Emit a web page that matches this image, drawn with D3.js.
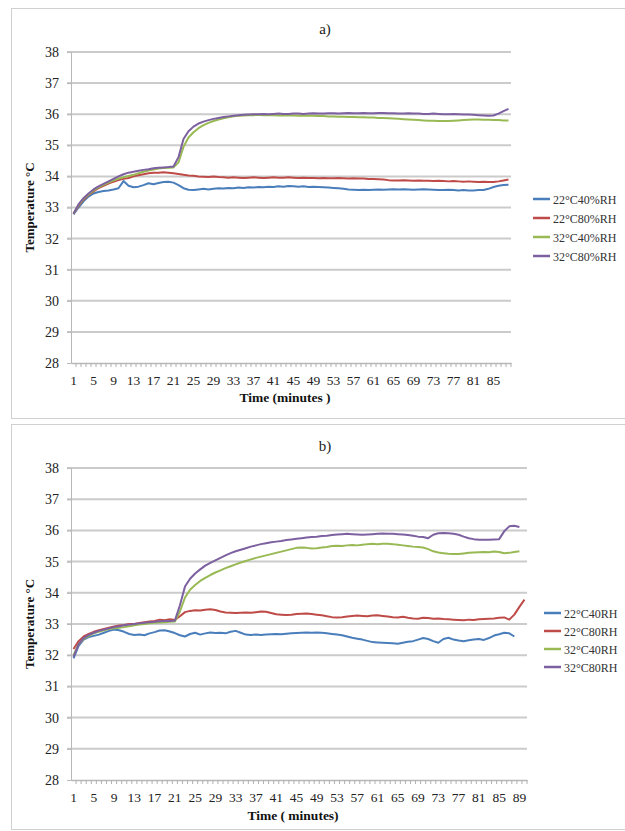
<!DOCTYPE html>
<html>
<head>
<meta charset="utf-8">
<script src="https://cdn.jsdelivr.net/npm/d3@7"></script>
<style>
  body { margin: 0; background: #fff; }
  svg { display: block; }
  .tick-label { font-family: "Liberation Serif", "Times New Roman", serif; fill: #222; }
  .axis-title { font-family: "Liberation Serif", "Times New Roman", serif; font-weight: bold; fill: #111; }
  .legend-text { font-family: "Liberation Serif", "Times New Roman", serif; fill: #333; }
</style>
</head>
<body>
<svg id="chart" width="625" height="831"></svg>
<script>
// ---------- Data ----------
const yTicks = [28, 29, 30, 31, 32, 33, 34, 35, 36, 37, 38];

// chart a) : 88 minutes
const timeA = d3.range(1, 89);
const xTicksA = [1, 5, 9, 13, 17, 21, 25, 29, 33, 37, 41, 45, 49, 53, 57, 61, 65, 69, 73, 77, 81, 85];
const namesA = ["22°C40%RH", "22°C80%RH", "32°C40%RH", "32°C80%RH"];

const a22c40 = [32.78,33.00,33.20,33.35,33.45,33.50,33.53,33.55,33.58,33.62,
  33.85,33.70,33.65,33.67,33.72,33.78,33.75,33.79,33.82,33.83,
  33.80,33.72,33.62,33.57,33.56,33.58,33.60,33.58,33.60,33.62,
  33.61,33.63,33.62,33.64,33.63,33.65,33.64,33.66,33.65,33.67,
  33.66,33.68,33.67,33.69,33.68,33.67,33.68,33.66,33.67,33.66,
  33.65,33.64,33.63,33.62,33.60,33.58,33.57,33.56,33.57,33.56,
  33.57,33.58,33.57,33.58,33.59,33.58,33.59,33.58,33.57,33.58,
  33.59,33.58,33.57,33.56,33.56,33.57,33.56,33.55,33.56,33.55,
  33.55,33.56,33.56,33.60,33.66,33.70,33.72,33.73];
const a22c80 = [32.80,33.05,33.25,33.40,33.52,33.62,33.70,33.77,33.83,33.88,
  33.92,33.95,34.00,34.04,34.07,34.10,34.12,34.12,34.13,34.12,
  34.10,34.08,34.05,34.03,34.02,34.00,33.99,33.98,34.00,33.98,
  33.97,33.96,33.97,33.96,33.95,33.96,33.97,33.96,33.95,33.96,
  33.97,33.96,33.96,33.97,33.96,33.95,33.96,33.95,33.95,33.94,
  33.95,33.94,33.94,33.95,33.94,33.93,33.94,33.93,33.93,33.92,
  33.92,33.91,33.90,33.88,33.87,33.87,33.88,33.87,33.86,33.87,
  33.86,33.86,33.85,33.86,33.85,33.84,33.85,33.84,33.83,33.84,
  33.83,33.82,33.83,33.82,33.82,33.84,33.87,33.90];
const a32c40 = [32.80,33.08,33.28,33.42,33.55,33.65,33.73,33.80,33.87,33.93,
  33.97,34.01,34.05,34.10,34.15,34.19,34.22,34.25,34.27,34.28,
  34.29,34.45,34.95,35.25,35.42,35.55,35.65,35.72,35.78,35.83,
  35.87,35.90,35.93,35.95,35.96,35.97,35.97,35.98,35.97,35.97,
  35.97,35.96,35.97,35.96,35.96,35.95,35.96,35.95,35.95,35.94,
  35.94,35.93,35.93,35.92,35.92,35.91,35.91,35.90,35.90,35.89,
  35.89,35.88,35.88,35.87,35.86,35.85,35.84,35.83,35.82,35.81,
  35.80,35.79,35.79,35.78,35.78,35.78,35.79,35.80,35.81,35.82,
  35.83,35.83,35.82,35.82,35.81,35.81,35.80,35.80];
const a32c80 = [32.80,33.10,33.30,33.45,33.58,33.68,33.76,33.84,33.92,34.00,
  34.07,34.12,34.15,34.18,34.21,34.23,34.26,34.28,34.29,34.30,
  34.32,34.62,35.20,35.45,35.60,35.70,35.76,35.81,35.85,35.88,
  35.91,35.93,35.95,35.97,35.98,35.99,36.00,36.00,36.01,36.00,
  36.01,36.02,36.01,36.01,36.02,36.02,36.01,36.02,36.03,36.02,
  36.02,36.03,36.03,36.02,36.03,36.04,36.03,36.03,36.04,36.03,
  36.03,36.04,36.04,36.03,36.03,36.02,36.02,36.03,36.02,36.02,
  36.01,36.01,36.02,36.01,36.00,36.00,36.01,36.00,35.99,35.99,
  35.98,35.97,35.96,35.95,35.96,36.02,36.10,36.17];

// chart b) : 90 minutes
const timeB = d3.range(1, 91);
const xTicksB = [1, 5, 9, 13, 17, 21, 25, 29, 33, 37, 41, 45, 49, 53, 57, 61, 65, 69, 73, 77, 81, 85, 89];
const namesB = ["22°C40RH", "22°C80RH", "32°C40RH", "32°C80RH"];

const b22c40 = [31.90,32.30,32.50,32.58,32.62,32.66,32.72,32.78,32.82,32.80,
  32.75,32.68,32.65,32.66,32.64,32.70,32.74,32.79,32.80,32.76,
  32.71,32.64,32.60,32.68,32.72,32.66,32.70,32.73,32.71,32.72,
  32.70,32.75,32.78,32.72,32.66,32.65,32.66,32.65,32.66,32.67,
  32.68,32.67,32.69,32.70,32.71,32.72,32.73,32.72,32.73,32.72,
  32.70,32.68,32.66,32.64,32.60,32.56,32.53,32.50,32.46,32.42,
  32.41,32.40,32.39,32.38,32.37,32.40,32.43,32.45,32.50,32.55,
  32.52,32.45,32.40,32.52,32.56,32.50,32.47,32.45,32.48,32.50,
  32.52,32.49,32.55,32.63,32.67,32.72,32.70,32.60];
const b22c80 = [32.20,32.45,32.60,32.68,32.75,32.80,32.84,32.88,32.92,32.95,
  32.97,33.00,33.00,33.03,33.06,33.08,33.10,33.14,33.12,33.15,
  33.13,33.25,33.38,33.42,33.44,33.43,33.46,33.47,33.45,33.40,
  33.37,33.36,33.35,33.36,33.37,33.36,33.38,33.40,33.39,33.35,
  33.31,33.30,33.29,33.30,33.32,33.33,33.34,33.32,33.30,33.28,
  33.25,33.22,33.21,33.22,33.24,33.26,33.27,33.26,33.25,33.27,
  33.28,33.26,33.24,33.22,33.21,33.23,33.20,33.18,33.17,33.20,
  33.19,33.17,33.18,33.16,33.15,33.14,33.13,33.12,33.14,33.13,
  33.15,33.16,33.17,33.18,33.20,33.21,33.14,33.30,33.55,33.78];
const b32c40 = [32.00,32.35,32.52,32.62,32.70,32.75,32.80,32.84,32.86,32.88,
  32.90,32.93,32.96,32.98,33.00,33.02,33.04,33.05,33.06,33.07,
  33.08,33.40,33.85,34.10,34.25,34.38,34.48,34.57,34.65,34.72,
  34.79,34.85,34.91,34.97,35.02,35.07,35.12,35.16,35.20,35.24,
  35.28,35.32,35.36,35.40,35.44,35.45,35.44,35.42,35.43,35.45,
  35.47,35.50,35.51,35.50,35.52,35.53,35.52,35.54,35.56,35.57,
  35.56,35.57,35.57,35.56,35.54,35.52,35.50,35.48,35.47,35.45,
  35.40,35.33,35.29,35.27,35.25,35.24,35.24,35.26,35.28,35.29,
  35.30,35.31,35.30,35.32,35.31,35.27,35.28,35.31,35.33];
const b32c80 = [31.95,32.35,32.55,32.65,32.72,32.78,32.82,32.86,32.90,32.93,
  32.96,32.98,33.00,33.02,33.04,33.06,33.07,33.09,33.10,33.10,
  33.11,33.60,34.20,34.45,34.62,34.75,34.87,34.96,35.04,35.12,
  35.20,35.27,35.33,35.38,35.43,35.48,35.52,35.56,35.59,35.62,
  35.64,35.66,35.69,35.71,35.73,35.75,35.77,35.79,35.80,35.82,
  35.83,35.85,35.87,35.88,35.89,35.88,35.87,35.86,35.87,35.88,
  35.89,35.90,35.89,35.89,35.88,35.87,35.85,35.83,35.80,35.79,
  35.75,35.86,35.91,35.92,35.91,35.89,35.86,35.80,35.75,35.72,
  35.70,35.70,35.70,35.71,35.72,35.97,36.13,36.15,36.11];

// Display settings
const colors = ["#4a7ebb", "#be4b48", "#98b954", "#7d60a0"];
const svg = d3.select("#chart");

drawChart({
  title: "a)", xTitle: "Time (minutes )",
  cats: timeA, xTicks: xTicksA, names: namesA,
  series: [a22c40, a22c80, a32c40, a32c80],
  frame: [11, 8, 640, 410],
  plot: { left: 71, right: 511, top: 52, bottom: 363 },
  titleY: 34, xLabelY: 385, xTitleY: 402, yTitleX: 34,
  legendX: 533, legendRows: [199, 218, 237, 256]
});

drawChart({
  title: "b)", xTitle: "Time ( minutes)",
  cats: timeB, xTicks: xTicksB, names: namesB,
  series: [b22c40, b22c80, b32c40, b32c80],
  frame: [11, 424, 640, 405],
  plot: { left: 71, right: 527, top: 468, bottom: 780 },
  titleY: 451, xLabelY: 802, xTitleY: 820, yTitleX: 34,
  legendX: 544, legendRows: [613, 631, 649, 667]
});

function drawChart(c) {
  const g = svg.append("g");
  const p = c.plot;

  // frame
  g.append("rect")
    .attr("x", c.frame[0] + 0.5).attr("y", c.frame[1] + 0.5)
    .attr("width", c.frame[2]).attr("height", c.frame[3])
    .attr("fill", "none").attr("stroke", "#d0d0d0");

  const x = d3.scaleBand().domain(c.cats).range([p.left, p.right]);
  const y = d3.scaleLinear().domain([28, 38]).range([p.bottom, p.top]);

  // gridlines
  g.selectAll(".grid")
    .data(yTicks.filter(t => t > 28))
    .enter().append("line")
    .attr("x1", p.left - 4).attr("x2", p.right)
    .attr("y1", d => y(d)).attr("y2", d => y(d))
    .attr("stroke", "#cbcbcb").attr("stroke-width", 2);

  // y axis
  const yAxis = g.append("g")
    .attr("transform", `translate(${p.left},0)`)
    .call(d3.axisLeft(y).tickValues(yTicks).tickSize(4).tickPadding(8));
  yAxis.select(".domain").attr("stroke", "#b8b8b8");
  yAxis.selectAll(".tick line").attr("stroke", "#b8b8b8");
  yAxis.selectAll("text").attr("class", "tick-label").style("font-size", "14px");

  // x axis
  const xAxis = g.append("g")
    .attr("transform", `translate(0,${p.bottom})`)
    .call(d3.axisBottom(x).tickValues(c.xTicks).tickSize(0).tickPadding(0));
  xAxis.select(".domain").attr("stroke", "#b8b8b8").attr("stroke-width", 1.5);
  xAxis.selectAll("text").attr("class", "tick-label")
    .attr("dy", null).attr("y", c.xLabelY - p.bottom)
    .style("font-size", "13.5px");

  // category boundary ticks
  g.selectAll(".ctick")
    .data(c.cats)
    .enter().append("line")
    .attr("x1", d => x(d) + x.bandwidth()).attr("x2", d => x(d) + x.bandwidth())
    .attr("y1", p.bottom).attr("y2", p.bottom + 4)
    .attr("stroke", "#b0b0b0");

  // series
  const line = d3.line()
    .x((d, i) => x(c.cats[i]) + x.bandwidth() / 2)
    .y(d => y(d));

  c.series.forEach((s, k) => {
    g.append("path")
      .datum(s)
      .attr("fill", "none")
      .attr("stroke", colors[k])
      .attr("stroke-width", 2)
      .attr("stroke-linejoin", "round")
      .attr("d", line);
  });

  // titles
  g.append("text")
    .attr("x", 325).attr("y", c.titleY)
    .attr("text-anchor", "middle")
    .attr("class", "tick-label")
    .style("font-size", "15px")
    .text(c.title);

  g.append("text")
    .attr("x", (p.left + p.right) / 2 - 6).attr("y", c.xTitleY)
    .attr("text-anchor", "middle")
    .attr("class", "axis-title")
    .style("font-size", "13.5px")
    .text(c.xTitle);

  g.append("text")
    .attr("transform", `translate(${c.yTitleX},${(p.top + p.bottom) / 2}) rotate(-90)`)
    .attr("text-anchor", "middle")
    .attr("class", "axis-title")
    .style("font-size", "13px")
    .text("Temperature °C");

  // legend
  c.names.forEach((name, k) => {
    const ly = c.legendRows[k];
    g.append("line")
      .attr("x1", c.legendX).attr("x2", c.legendX + 17)
      .attr("y1", ly).attr("y2", ly)
      .attr("stroke", colors[k]).attr("stroke-width", 2.5);
    g.append("text")
      .attr("x", c.legendX + 20).attr("y", ly + 4.5)
      .attr("class", "legend-text")
      .style("font-size", "12px")
      .text(name);
  });
}
</script>
</body>
</html>
